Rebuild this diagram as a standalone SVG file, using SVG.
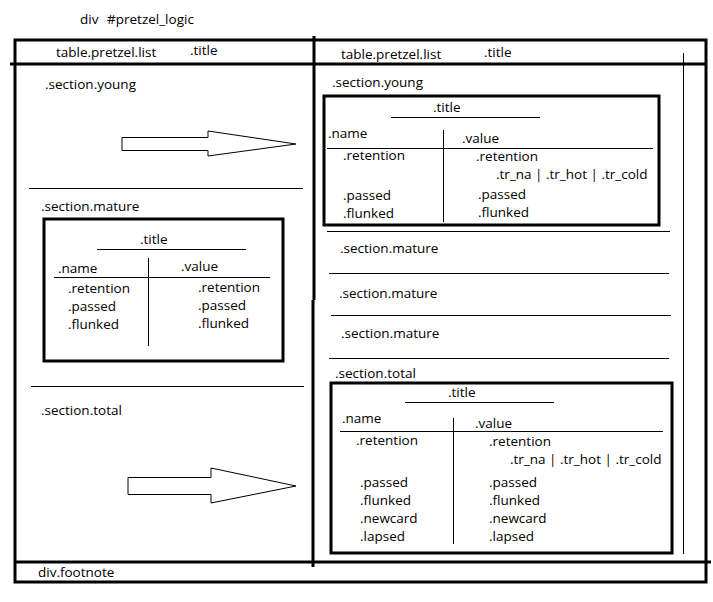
<svg xmlns="http://www.w3.org/2000/svg" width="713" height="602" viewBox="0 0 713 602">
<style>
text{font-family:"Open Sans","Noto Sans","Liberation Sans",sans-serif;font-size:13.5px;fill:#000}
.thick{fill:none;stroke:#000;stroke-width:3}
.thin{fill:none;stroke:#000;stroke-width:1}
.arrow{fill:#fff;stroke:#000;stroke-width:1}
</style>
<rect width="713" height="602" fill="#fff"/>
<g id="page">
<text x="80" y="24">div</text>
<text x="107" y="24">#pretzel_logic</text>
<rect class="thick" x="15" y="40" width="691" height="542"/>
<line class="thick" x1="10" y1="64" x2="706" y2="64"/>
<line class="thick" x1="314" y1="36" x2="314" y2="300"/>
<line class="thick" x1="313" y1="300" x2="313" y2="567"/>
<line class="thick" x1="15" y1="562" x2="711" y2="562"/>
<line class="thin" x1="683.5" y1="53" x2="683.5" y2="554"/>
<text x="38" y="577">div.footnote</text>
</g>
<g id="left-table">
<text x="56" y="57">table.pretzel.list</text>
<text x="190" y="55">.title</text>
<text x="45" y="89">.section.young</text>
<line class="thin" x1="29" y1="188.5" x2="303" y2="188.5"/>
<text x="41" y="211">.section.mature</text>
<line class="thin" x1="31" y1="386.5" x2="304" y2="386.5"/>
<text x="41" y="415">.section.total</text>
</g>
<g id="left-mature-box">
<rect class="thick" x="44" y="219" width="239" height="142"/>
<text x="140" y="244">.title</text>
<line class="thin" x1="97" y1="249.5" x2="246" y2="249.5"/>
<line class="thin" x1="148.5" y1="258" x2="148.5" y2="346"/>
<text x="58" y="273">.name</text>
<text x="181" y="271">.value</text>
<line class="thin" x1="54" y1="277.5" x2="270" y2="277.5"/>
<text x="68" y="293">.retention</text>
<text x="68" y="311">.passed</text>
<text x="68" y="329">.flunked</text>
<text x="198" y="292">.retention</text>
<text x="198" y="310">.passed</text>
<text x="198" y="328">.flunked</text>
</g>
<g id="right-table">
<text x="341" y="59">table.pretzel.list</text>
<text x="484" y="57">.title</text>
<text x="332" y="87">.section.young</text>
<line class="thin" x1="327" y1="231.5" x2="670" y2="231.5"/>
<text x="340" y="253">.section.mature</text>
<line class="thin" x1="329" y1="273.5" x2="669" y2="273.5"/>
<text x="339" y="298">.section.mature</text>
<line class="thin" x1="331" y1="315.5" x2="671" y2="315.5"/>
<text x="341" y="338">.section.mature</text>
<line class="thin" x1="329" y1="358.5" x2="669" y2="358.5"/>
<text x="335" y="378">.section.total</text>
</g>
<g id="right-young-box">
<rect class="thick" x="324" y="96" width="335" height="129"/>
<text x="433" y="112">.title</text>
<line class="thin" x1="391" y1="117.5" x2="540" y2="117.5"/>
<line class="thin" x1="443.5" y1="130" x2="443.5" y2="222"/>
<text x="328" y="138">.name</text>
<text x="462" y="143">.value</text>
<line class="thin" x1="327" y1="148.5" x2="653" y2="148.5"/>
<text x="343" y="160">.retention</text>
<text x="343" y="200">.passed</text>
<text x="343" y="218">.flunked</text>
<text x="476" y="161">.retention</text>
<text x="496" y="179">.tr_na | .tr_hot | .tr_cold</text>
<text x="478" y="199">.passed</text>
<text x="478" y="217">.flunked</text>
</g>
<g id="right-total-box">
<rect class="thick" x="331" y="383" width="341" height="170"/>
<text x="448" y="397">.title</text>
<line class="thin" x1="405" y1="402.5" x2="554" y2="402.5"/>
<line class="thin" x1="453.5" y1="418" x2="453.5" y2="544"/>
<text x="342" y="423">.name</text>
<text x="475" y="428">.value</text>
<line class="thin" x1="340" y1="431.5" x2="663" y2="431.5"/>
<text x="356" y="445">.retention</text>
<text x="360" y="487">.passed</text>
<text x="360" y="505">.flunked</text>
<text x="360" y="523">.newcard</text>
<text x="360" y="541">.lapsed</text>
<text x="489" y="446">.retention</text>
<text x="510" y="464">.tr_na | .tr_hot | .tr_cold</text>
<text x="489" y="487">.passed</text>
<text x="489" y="505">.flunked</text>
<text x="489" y="523">.newcard</text>
<text x="489" y="541">.lapsed</text>
</g>
<g id="connectors">
<polygon class="arrow" points="122,137.5 208,137.5 208,131 296,144 208,156 208,150.5 122,150.5"/>
<polygon class="arrow" points="128,477.5 211,477.5 211,468 296,486 211,503 211,494.5 128,494.5"/>
</g>
</svg>
